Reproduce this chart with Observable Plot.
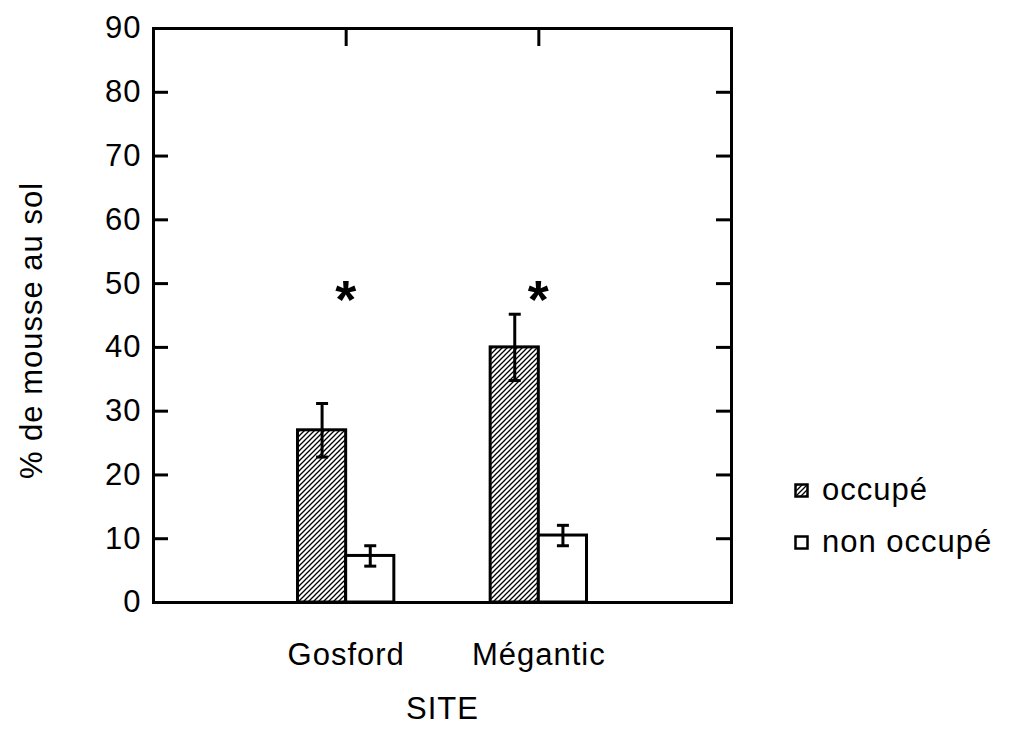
<!DOCTYPE html>
<html>
<head>
<meta charset="utf-8">
<script src="https://cdn.jsdelivr.net/npm/d3@7"></script>
<script src="https://cdn.jsdelivr.net/npm/@observablehq/plot@0.6"></script>
<style>
  body { margin: 0; background: #fff; }
  #chart { position: relative; width: 1019px; height: 751px; font-family: "Liberation Sans", Arial, Helvetica, sans-serif; color: #000; }
  .legend { position: absolute; left: 794px; top: 464px; font-size: 31px; letter-spacing: 1px; }
  .legend .item { display: flex; align-items: center; height: 52px; }
  .legend svg { margin-right: 13px; }
</style>
</head>
<body>
<div id="chart"></div>
<script>
// Moss cover on the ground (% ± error) by site and occupancy
const sites = ["Gosford", "Mégantic"];
const conditions = ["occupé", "non occupé"];
const occupeMean = [27, 40];
const occupeErr = [4.2, 5.2];
const nonOccupeMean = [7.3, 10.5];
const nonOccupeErr = [1.6, 1.6];
const significance = ["*", "*"];
const yTicks = [0, 10, 20, 30, 40, 50, 60, 70, 80, 90];

const W = 1019, H = 751;
const mL = 153, mR = 288, mT = 28, mB = 149;
const frameW = W - mL - mR, frameH = H - mT - mB;
const barWidth = 0.25;   // width of one bar, in site units
const starLevel = 48;    // height of the significance marks

// one row per bar: occupé to the left of the site position, non occupé to the right
const rows = [];
sites.forEach((site, i) => {
  const pos = i + 1;
  rows.push({site, cond: conditions[0], value: occupeMean[i], err: occupeErr[i], x1: pos - barWidth, x2: pos});
  rows.push({site, cond: conditions[1], value: nonOccupeMean[i], err: nonOccupeErr[i], x1: pos, x2: pos + barWidth});
});
const mid = d => (d.x1 + d.x2) / 2;

// flat cap for the error bars
const cap = {draw(context) { context.moveTo(-6, 0); context.lineTo(6, 0); }};

const plot = Plot.plot({
  width: W,
  height: H,
  marginLeft: mL,
  marginRight: mR,
  marginTop: mT,
  marginBottom: mB,
  style: {fontFamily: "Liberation Sans, Arial, Helvetica, sans-serif", fontSize: "31px", letterSpacing: "1px", color: "black", background: "white"},
  x: {domain: [0, sites.length + 1], axis: null},
  y: {domain: [0, 90], axis: null},
  color: {type: "ordinal", domain: conditions, range: ["url(#hatch)", "white"]},
  marks: [
    Plot.rectY(rows, {x1: "x1", x2: "x2", y: "value", fill: "cond", stroke: "black", strokeWidth: 3}),
    Plot.ruleX(rows, {x: mid, y1: d => d.value - d.err, y2: d => d.value + d.err, stroke: "black", strokeWidth: 3}),
    Plot.dot(rows, {x: mid, y: d => d.value + d.err, symbol: cap, stroke: "black", strokeWidth: 3}),
    Plot.dot(rows, {x: mid, y: d => d.value - d.err, symbol: cap, stroke: "black", strokeWidth: 3}),
    Plot.text(significance, {x: (d, i) => i + 1, y: () => starLevel, text: d => d, fontSize: 54, fontWeight: "bold", dy: 4}),
    // inward ticks on left, right and top edges
    Plot.tickY(yTicks, {y: d => d, insetRight: frameW - 15, stroke: "black", strokeWidth: 3}),
    Plot.tickY(yTicks, {y: d => d, insetLeft: frameW - 15, stroke: "black", strokeWidth: 3}),
    Plot.tickX(sites.map((s, i) => i + 1), {x: d => d, insetBottom: frameH - 18, stroke: "black", strokeWidth: 3}),
    Plot.frame({stroke: "black", strokeWidth: 3}),
    Plot.axisY(yTicks, {tickSize: 0, tickPadding: 12, label: null}),
    Plot.axisX(sites.map((s, i) => i + 1), {tickSize: 0, tickPadding: 40, tickFormat: d => sites[d - 1], label: null}),
    Plot.text(["SITE"], {frameAnchor: "bottom", lineAnchor: "top", dy: 94}),
    Plot.text(["% de mousse au sol"], {frameAnchor: "left", textAnchor: "middle", rotate: -90, dx: -121, dy: 15, letterSpacing: "2px"})
  ]
});

// diagonal hatching used for the "occupé" bars
d3.select(plot).insert("defs", ":first-child").html(
  `<pattern id="hatch" patternUnits="userSpaceOnUse" width="5" height="5">
     <rect width="5" height="5" fill="white"/>
     <path d="M-1,1 l2,-2 M0,5 l5,-5 M4,6 l2,-2" stroke="black" stroke-width="1.3"/>
   </pattern>`
);

const chart = document.getElementById("chart");
chart.appendChild(plot);

// legend to the right of the frame
const legend = document.createElement("div");
legend.className = "legend";
const swatchFill = ["url(#hatch)", "white"];
conditions.forEach((c, i) => {
  const item = document.createElement("div");
  item.className = "item";
  item.innerHTML = `<svg width="15" height="15"><rect x="1.5" y="1.5" width="12" height="12" fill="${swatchFill[i]}" stroke="black" stroke-width="2.5"/></svg><span>${c}</span>`;
  legend.appendChild(item);
});
chart.appendChild(legend);
</script>
</body>
</html>
